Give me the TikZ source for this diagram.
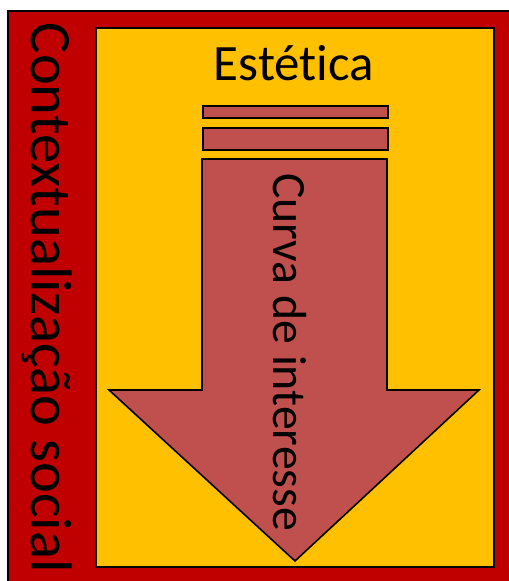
\documentclass[tikz,border=0pt]{standalone}
\usepackage{fontspec}
\setmainfont{Carlito}[Ligatures=NoCommon]
\usepackage{tikz}
\usetikzlibrary{positioning}
\definecolor{framered}{HTML}{C00000}
\definecolor{fieldgold}{HTML}{FFC000}
\definecolor{arrowred}{HTML}{C0504D}
\newlength{\px}
\setlength{\px}{0.02cm}

\tikzset{
  bar/.style={draw=black,line width=0.9pt,fill=arrowred,inner sep=0pt,minimum width=185\px,anchor=north west},
}

\begin{document}
\begin{tikzpicture}[x=0.02cm, y=-0.02cm, line join=miter]
        \useasboundingbox (0,0) rectangle (508,581);
        % frames
        \draw[draw=black,line width=0.9pt,fill=framered] (8,11) rectangle (514,588);
        \draw[draw=black,line width=0.9pt,fill=fieldgold] (96,28) rectangle (494,567);
        % stripes above the arrow
        \node[bar,minimum height=12\px] (s1) at (202,105) {};
        \node[bar,minimum height=22\px] (s2) at (202,127) {};
        % arrow
        \draw[draw=black,line width=0.9pt,fill=arrowred]
          (202,159) coordinate (a1) -- (387,159) -- (387,390) -- (479,390)
          -- (295,561) coordinate (tip) -- (109,390) -- (202,390) -- cycle;
        % labels
        \node[font=\fontsize{29}{30}\selectfont] (title) at (294,63) {Estética};
        \node[font=\fontsize{33.3}{34}\selectfont,rotate=-90] (side) at (47,298) {Contextualização social};
        \node[font=\fontsize{27.2}{28}\selectfont,rotate=-90] (curve) at (290,352) {Curva de interesse};
      \end{tikzpicture}
\end{document}
